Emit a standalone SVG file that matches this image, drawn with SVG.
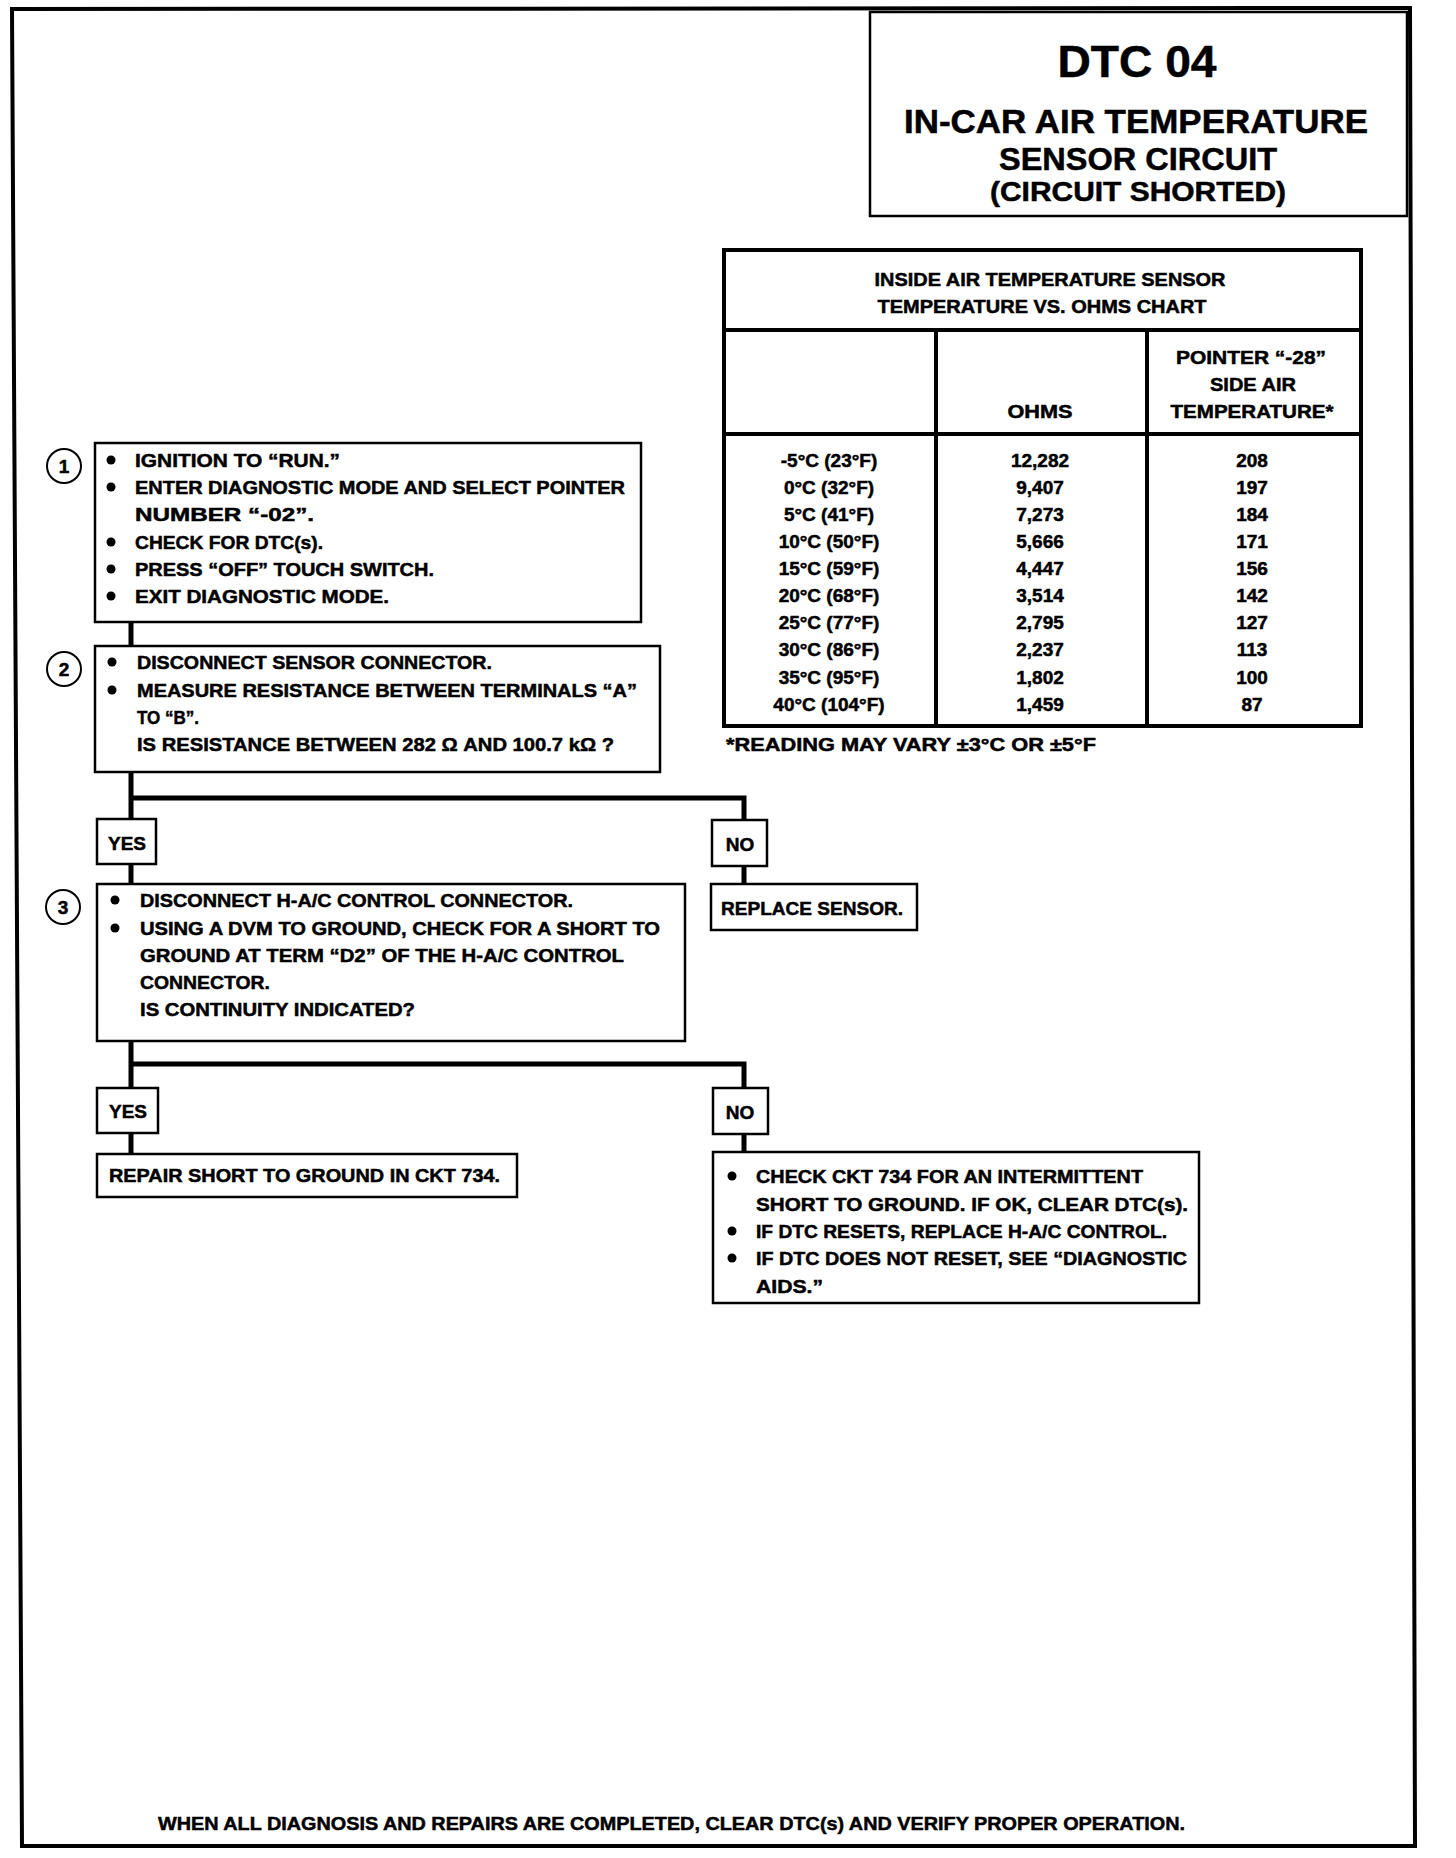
<svg xmlns="http://www.w3.org/2000/svg" width="1456" height="1858" viewBox="0 0 1456 1858">
<style>
  text { font-family: "Liberation Sans", Arial, sans-serif; font-weight: bold; fill: #000; stroke: #000; stroke-width: 0.5; }
  .t { font-size: 19px; }
  .c { text-anchor: middle; }
  .box { fill: #fff; stroke: #000; stroke-width: 2.5; }
  .thick { fill: none; stroke: #000; stroke-width: 4; }
  .conn { fill: none; stroke: #000; stroke-width: 5; }
  .num { fill: #fff; stroke: #000; stroke-width: 2; }
</style>
<rect x="0" y="0" width="1456" height="1858" fill="#fff"/>
<path d="M12,9 L1410,8 L1415,1846 L22,1846 Z" class="thick" stroke-width="5"/>

<g id="title">
  <rect x="870" y="12" width="537" height="204" class="box"/>
  <text x="1137" y="77" class="c" font-size="44" textLength="159" lengthAdjust="spacingAndGlyphs">DTC 04</text>
  <text x="1136" y="133" class="c" font-size="33" textLength="464" lengthAdjust="spacingAndGlyphs">IN-CAR AIR TEMPERATURE</text>
  <text x="1138" y="170" class="c" font-size="32" textLength="278" lengthAdjust="spacingAndGlyphs">SENSOR CIRCUIT</text>
  <text x="1138" y="201" class="c" font-size="27" textLength="296" lengthAdjust="spacingAndGlyphs">(CIRCUIT SHORTED)</text>
</g>

<g id="chart">
  <rect x="724" y="250" width="637" height="476" class="thick"/>
  <line x1="724" y1="330" x2="1361" y2="330" class="thick"/>
  <line x1="724" y1="434" x2="1361" y2="434" class="thick"/>
  <line x1="936" y1="330" x2="936" y2="726" class="thick"/>
  <line x1="1147" y1="330" x2="1147" y2="726" class="thick"/>
  <text x="1050" y="286" class="t c" textLength="351" lengthAdjust="spacingAndGlyphs">INSIDE AIR TEMPERATURE SENSOR</text>
  <text x="1042" y="313" class="t c" textLength="329" lengthAdjust="spacingAndGlyphs">TEMPERATURE VS. OHMS CHART</text>
  <text x="1251" y="364" class="t c" textLength="150" lengthAdjust="spacingAndGlyphs">POINTER “-28”</text>
  <text x="1253" y="391" class="t c" textLength="86" lengthAdjust="spacingAndGlyphs">SIDE AIR</text>
  <text x="1252" y="418" class="t c" textLength="163" lengthAdjust="spacingAndGlyphs">TEMPERATURE*</text>
  <text x="1040" y="418" class="t c" textLength="65" lengthAdjust="spacingAndGlyphs">OHMS</text>
  <g class="t c">
    <text x="829" y="467">-5°C (23°F)</text>
    <text x="829" y="494">0°C (32°F)</text>
    <text x="829" y="521">5°C (41°F)</text>
    <text x="829" y="548">10°C (50°F)</text>
    <text x="829" y="575">15°C (59°F)</text>
    <text x="829" y="602">20°C (68°F)</text>
    <text x="829" y="629">25°C (77°F)</text>
    <text x="829" y="656">30°C (86°F)</text>
    <text x="829" y="684">35°C (95°F)</text>
    <text x="829" y="711">40°C (104°F)</text>
    <text x="1040" y="467">12,282</text>
    <text x="1040" y="494">9,407</text>
    <text x="1040" y="521">7,273</text>
    <text x="1040" y="548">5,666</text>
    <text x="1040" y="575">4,447</text>
    <text x="1040" y="602">3,514</text>
    <text x="1040" y="629">2,795</text>
    <text x="1040" y="656">2,237</text>
    <text x="1040" y="684">1,802</text>
    <text x="1040" y="711">1,459</text>
    <text x="1252" y="467">208</text>
    <text x="1252" y="494">197</text>
    <text x="1252" y="521">184</text>
    <text x="1252" y="548">171</text>
    <text x="1252" y="575">156</text>
    <text x="1252" y="602">142</text>
    <text x="1252" y="629">127</text>
    <text x="1252" y="656">113</text>
    <text x="1252" y="684">100</text>
    <text x="1252" y="711">87</text>
  </g>
  <text x="726" y="751" class="t" textLength="370" lengthAdjust="spacingAndGlyphs">*READING MAY VARY  ±3°C OR  ±5°F</text>
</g>

<g id="connectors">
  <path d="M131,622 V646" class="conn"/>
  <path d="M131,772 V819 M131,798 H744 V820" class="conn"/>
  <path d="M131,864 V884" class="conn"/>
  <path d="M744,866 V884" class="conn"/>
  <path d="M131,1041 V1088 M131,1064 H744 V1088" class="conn"/>
  <path d="M131,1133 V1154" class="conn"/>
  <path d="M744,1134 V1152" class="conn"/>
</g>

<g id="step1">
  <circle cx="64" cy="466" r="17" class="num"/>
  <text x="64" y="473" class="c" font-size="19">1</text>
  <rect x="95" y="443" width="546" height="179" class="box"/>
  <g fill="#000">
    <circle cx="111" cy="460" r="4.5"/><circle cx="111" cy="487" r="4.5"/>
    <circle cx="111" cy="542" r="4.5"/><circle cx="111" cy="569" r="4.5"/><circle cx="111" cy="596" r="4.5"/>
  </g>
  <text x="135" y="467" class="t" textLength="205" lengthAdjust="spacingAndGlyphs">IGNITION TO “RUN.”</text>
  <text x="135" y="494" class="t" textLength="490" lengthAdjust="spacingAndGlyphs">ENTER DIAGNOSTIC MODE AND SELECT POINTER</text>
  <text x="135" y="521" class="t" textLength="179" lengthAdjust="spacingAndGlyphs">NUMBER “-02”.</text>
  <text x="135" y="549" class="t" textLength="188" lengthAdjust="spacingAndGlyphs">CHECK FOR DTC(s).</text>
  <text x="135" y="576" class="t" textLength="299" lengthAdjust="spacingAndGlyphs">PRESS “OFF” TOUCH SWITCH.</text>
  <text x="135" y="603" class="t" textLength="254" lengthAdjust="spacingAndGlyphs">EXIT DIAGNOSTIC MODE.</text>
</g>

<g id="step2">
  <circle cx="64" cy="669" r="17" class="num"/>
  <text x="64" y="676" class="c" font-size="19">2</text>
  <rect x="95" y="646" width="565" height="126" class="box"/>
  <g fill="#000">
    <circle cx="112" cy="662" r="4.5"/><circle cx="112" cy="690" r="4.5"/>
  </g>
  <text x="137" y="669" class="t" textLength="355" lengthAdjust="spacingAndGlyphs">DISCONNECT SENSOR CONNECTOR.</text>
  <text x="137" y="697" class="t" textLength="500" lengthAdjust="spacingAndGlyphs">MEASURE RESISTANCE BETWEEN TERMINALS “A”</text>
  <text x="137" y="724" class="t" textLength="62" lengthAdjust="spacingAndGlyphs">TO “B”.</text>
  <text x="137" y="751" class="t" textLength="477" lengthAdjust="spacingAndGlyphs">IS RESISTANCE BETWEEN 282 Ω AND 100.7 kΩ ?</text>
</g>

<g id="yes1">
  <rect x="97" y="819" width="59" height="45" class="box"/>
  <text x="127" y="850" class="t c">YES</text>
</g>
<g id="no1">
  <rect x="712" y="820" width="55" height="46" class="box"/>
  <text x="740" y="851" class="t c">NO</text>
</g>
<g id="replace-sensor">
  <rect x="711" y="884" width="206" height="46" class="box"/>
  <text x="721" y="915" class="t" textLength="182" lengthAdjust="spacingAndGlyphs">REPLACE SENSOR.</text>
</g>

<g id="step3">
  <circle cx="63" cy="907" r="17" class="num"/>
  <text x="63" y="914" class="c" font-size="19">3</text>
  <rect x="97" y="884" width="588" height="157" class="box"/>
  <g fill="#000">
    <circle cx="115" cy="900" r="4.5"/><circle cx="115" cy="928" r="4.5"/>
  </g>
  <text x="140" y="907" class="t" textLength="433" lengthAdjust="spacingAndGlyphs">DISCONNECT H-A/C CONTROL CONNECTOR.</text>
  <text x="140" y="935" class="t" textLength="520" lengthAdjust="spacingAndGlyphs">USING A DVM TO GROUND, CHECK FOR A SHORT TO</text>
  <text x="140" y="962" class="t" textLength="484" lengthAdjust="spacingAndGlyphs">GROUND AT TERM “D2” OF THE H-A/C CONTROL</text>
  <text x="140" y="989" class="t" textLength="130" lengthAdjust="spacingAndGlyphs">CONNECTOR.</text>
  <text x="140" y="1016" class="t" textLength="275" lengthAdjust="spacingAndGlyphs">IS CONTINUITY INDICATED?</text>
</g>

<g id="yes2">
  <rect x="97" y="1088" width="61" height="45" class="box"/>
  <text x="128" y="1118" class="t c">YES</text>
</g>
<g id="no2">
  <rect x="713" y="1088" width="55" height="46" class="box"/>
  <text x="740" y="1119" class="t c">NO</text>
</g>
<g id="repair-short">
  <rect x="97" y="1154" width="420" height="43" class="box"/>
  <text x="109" y="1182" class="t" textLength="391" lengthAdjust="spacingAndGlyphs">REPAIR SHORT TO GROUND IN CKT 734.</text>
</g>
<g id="intermittent">
  <rect x="713" y="1152" width="486" height="151" class="box"/>
  <g fill="#000">
    <circle cx="732" cy="1176" r="4.5"/><circle cx="732" cy="1231" r="4.5"/><circle cx="732" cy="1258" r="4.5"/>
  </g>
  <text x="756" y="1183" class="t" textLength="387" lengthAdjust="spacingAndGlyphs">CHECK CKT 734 FOR AN INTERMITTENT</text>
  <text x="756" y="1211" class="t" textLength="432" lengthAdjust="spacingAndGlyphs">SHORT TO GROUND.  IF OK, CLEAR DTC(s).</text>
  <text x="756" y="1238" class="t" textLength="411" lengthAdjust="spacingAndGlyphs">IF DTC RESETS, REPLACE H-A/C CONTROL.</text>
  <text x="756" y="1265" class="t" textLength="431" lengthAdjust="spacingAndGlyphs">IF DTC DOES NOT RESET, SEE “DIAGNOSTIC</text>
  <text x="756" y="1293" class="t" textLength="67" lengthAdjust="spacingAndGlyphs">AIDS.”</text>
</g>

<text x="158" y="1830" class="t" textLength="1027" lengthAdjust="spacingAndGlyphs">WHEN ALL DIAGNOSIS AND REPAIRS ARE COMPLETED, CLEAR DTC(s) AND VERIFY PROPER OPERATION.</text>
</svg>
